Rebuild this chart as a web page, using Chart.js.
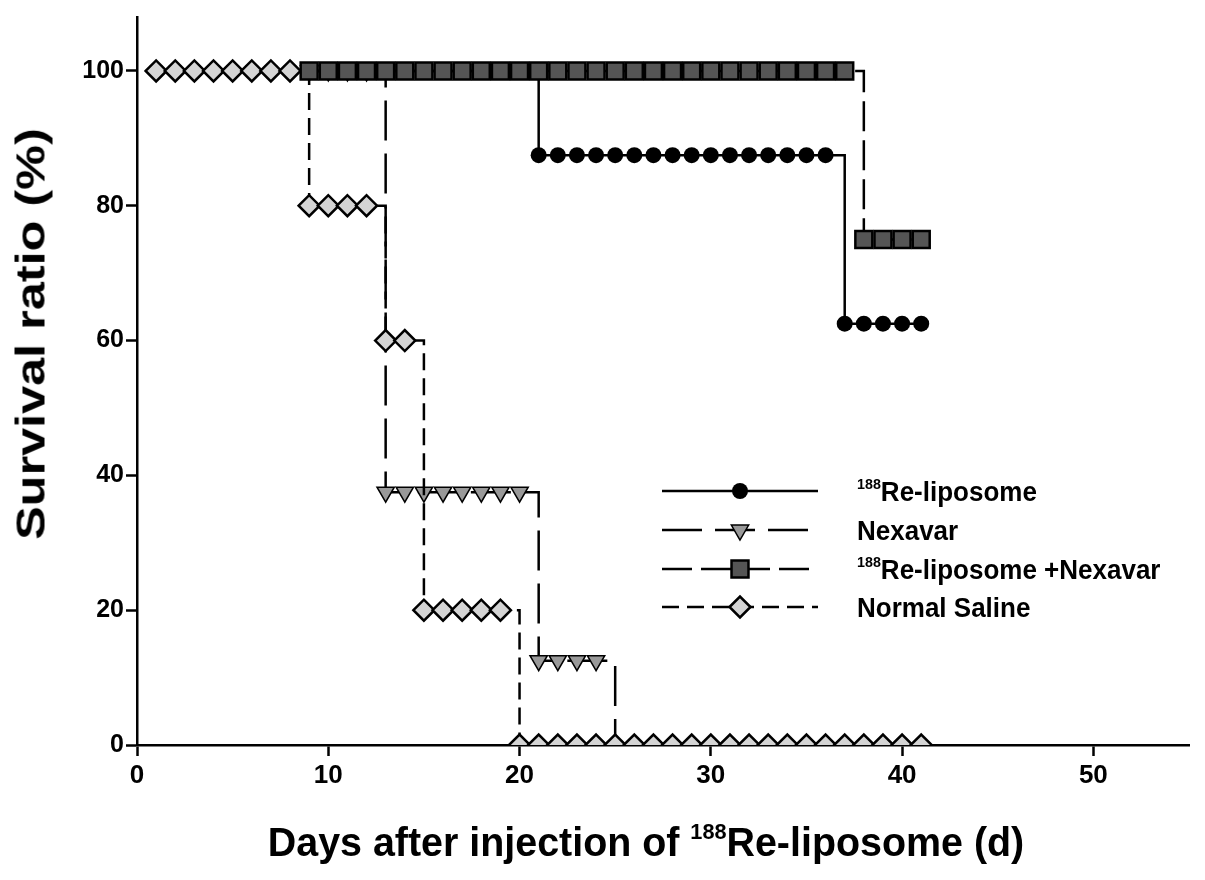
<!DOCTYPE html>
<html>
<head>
<meta charset="utf-8">
<script src="https://cdn.jsdelivr.net/npm/chart.js@4.4.0/dist/chart.umd.min.js"></script>
<style>
  html, body { margin: 0; padding: 0; background: #fff; }
  #wrap { position: relative; width: 1205px; height: 880px; font-family: "Liberation Sans", Arial, sans-serif; font-weight: bold; color: #000; }
  #chart { position: absolute; left: 0; top: 0; }
  .ytitle { position: absolute; left: 31px; top: 334px; transform: translate(-50%, -50%) rotate(-90deg) scaleX(1.26); font-size: 40px; white-space: nowrap; }
  .xtitle { position: absolute; left: 646px; top: 842px; transform: translate(-50%, -50%) scaleX(0.985); font-size: 40px; white-space: nowrap; }
  .legend-item { position: absolute; left: 857px; font-size: 26px; white-space: nowrap; transform: translateY(-50%) scaleY(1.08); transform-origin: left center; line-height: 1; }
  sup { font-size: 0.55em; vertical-align: 0.75em; line-height: 0; }
</style>
</head>
<body>
<div id="wrap">
  <canvas id="chart" width="1205" height="880"></canvas>
  <div class="ytitle">Survival ratio (%)</div>
  <div class="xtitle">Days after injection of <sup>188</sup>Re-liposome (d)</div>
  <div class="legend-item" style="top:491px"><sup>188</sup>Re-liposome</div>
  <div class="legend-item" style="top:530px">Nexavar</div>
  <div class="legend-item" style="top:569px"><sup>188</sup>Re-liposome +Nexavar</div>
  <div class="legend-item" style="top:607px">Normal Saline</div>
</div>
<script>
// Data (days after injection, survival %)
const days = [1, 2, 3, 4, 5, 6, 7, 8, 9, 10, 11, 12, 13, 14, 15, 16, 17, 18, 19, 20,
              21, 22, 23, 24, 25, 26, 27, 28, 29, 30, 31, 32, 33, 34, 35, 36, 37, 38, 39, 40, 41];

const reLiposome = [100, 100, 100, 100, 100, 100, 100, 100, 100, 100, 100, 100, 100, 100, 100, 100, 100, 100, 100, 100,
                    87.5, 87.5, 87.5, 87.5, 87.5, 87.5, 87.5, 87.5, 87.5, 87.5, 87.5, 87.5, 87.5, 87.5, 87.5, 87.5,
                    62.5, 62.5, 62.5, 62.5, 62.5];

const nexavar = [null, null, null, null, null, null, null, null, 100, 100, 100, 100,
                 37.5, 37.5, 37.5, 37.5, 37.5, 37.5, 37.5, 37.5,
                 12.5, 12.5, 12.5, 12.5, 0,
                 null, null, null, null, null, null, null, null, null, null, null, null, null, null, null, null];

const combo = [null, null, null, null, null, null, null, null, 100, 100, 100, 100, 100, 100, 100, 100, 100, 100, 100, 100,
               100, 100, 100, 100, 100, 100, 100, 100, 100, 100, 100, 100, 100, 100, 100, 100, 100,
               75, 75, 75, 75];

const saline = [100, 100, 100, 100, 100, 100, 100, 100, 80, 80, 80, 80, 60, 60, 20, 20, 20, 20, 20,
                0, 0, 0, 0, 0, 0, 0, 0, 0, 0, 0, 0, 0, 0, 0, 0, 0, 0, 0, 0, 0, 0];

const xTicks = [0, 10, 20, 30, 40, 50];
const yTicks = [0, 20, 40, 60, 80, 100];

const FONT = '"Liberation Sans", Arial, sans-serif';

const datasets = [
    {
        label: '188Re-liposome',
        data: reLiposome,
        borderColor: '#000',
        borderWidth: 2.5,
        stepped: true,
        pointStyle: 'circle',
        pointRadius: 8,
        pointBackgroundColor: '#000',
        pointBorderColor: '#000',
        pointBorderWidth: 0,
        order: 3
    },
    {
        label: 'Nexavar',
        data: nexavar,
        borderColor: '#000',
        borderWidth: 2.5,
        borderDash: [40, 13],
        stepped: true,
        pointStyle: 'triangle',
        pointRotation: 180,
        // the last (0 %) mark sits hidden under the saline diamonds
        pointRadius: c => (c.raw === 0 ? 0 : 10),
        pointBackgroundColor: '#999',
        pointBorderColor: '#000',
        pointBorderWidth: 1.5,
        order: 2
    },
    {
        label: '188Re-liposome +Nexavar',
        data: combo,
        borderColor: '#000',
        borderWidth: 2.5,
        borderDash: [30, 9],
        stepped: true,
        pointStyle: 'rect',
        pointRadius: 12,
        pointBackgroundColor: '#555',
        pointBorderColor: '#000',
        pointBorderWidth: 2.5,
        order: 0
    },
    {
        label: 'Normal Saline',
        data: saline,
        borderColor: '#000',
        borderWidth: 2.5,
        borderDash: [17, 8],
        stepped: true,
        pointStyle: 'rectRot',
        pointRadius: 10.5,
        pointBackgroundColor: '#d4d4d4',
        pointBorderColor: '#000',
        pointBorderWidth: 2.5,
        order: 1
    }
];

// legend symbols: a line sample with the marker in its middle
const legendRows = [491, 530, 569, 607];
const legendSymbols = {
    id: 'legendSymbols',
    afterDraw(chart) {
        const ctx = chart.ctx;
        datasets.forEach((ds, i) => {
            const y = legendRows[i];
            ctx.save();
            ctx.strokeStyle = '#000';
            ctx.lineWidth = 2.5;
            ctx.setLineDash(ds.borderDash || []);
            ctx.beginPath();
            ctx.moveTo(662, y);
            ctx.lineTo(818, y);
            ctx.stroke();
            ctx.setLineDash([]);
            ctx.fillStyle = ds.pointBackgroundColor;
            ctx.strokeStyle = ds.pointBorderColor;
            ctx.lineWidth = ds.pointBorderWidth;
            const r = typeof ds.pointRadius === 'function' ? 10 : ds.pointRadius;
            Chart.helpers.drawPoint(ctx, {
                pointStyle: ds.pointStyle,
                radius: r,
                rotation: ds.pointRotation || 0,
                borderWidth: ds.pointBorderWidth
            }, 740, y);
            ctx.restore();
        });
    }
};

new Chart(document.getElementById('chart'), {
    type: 'line',
    data: { labels: days, datasets: datasets },
    plugins: [legendSymbols],
    options: {
        responsive: false,
        animation: false,
        events: [],
        layout: { padding: { left: 0, top: 10, right: 16, bottom: 0 } },
        plugins: {
            legend: { display: false },
            tooltip: { enabled: false }
        },
        scales: {
            x: {
                type: 'linear',
                min: 0,
                max: 55,
                afterBuildTicks: axis => { axis.ticks = xTicks.map(v => ({ value: v })); },
                afterFit: axis => { axis.height = 135; },
                grid: { drawOnChartArea: false, drawTicks: true, tickLength: 11, tickWidth: 2.5, tickColor: '#000' },
                border: { display: true, color: '#000', width: 2.5 },
                ticks: { color: '#000', padding: 4, maxRotation: 0, autoSkip: false,
                         font: { family: FONT, size: 26, weight: 'bold' } }
            },
            y: {
                type: 'linear',
                min: 0,
                max: 108,
                afterBuildTicks: axis => { axis.ticks = yTicks.map(v => ({ value: v })); },
                afterFit: axis => { axis.width = 137; },
                grid: { drawOnChartArea: false, drawTicks: true, tickLength: 11, tickWidth: 2.5, tickColor: '#000' },
                border: { display: true, color: '#000', width: 2.5 },
                ticks: { color: '#000', padding: 2, autoSkip: false,
                         font: { family: FONT, size: 25, weight: 'bold' } }
            }
        }
    }
});
</script>
</body>
</html>
